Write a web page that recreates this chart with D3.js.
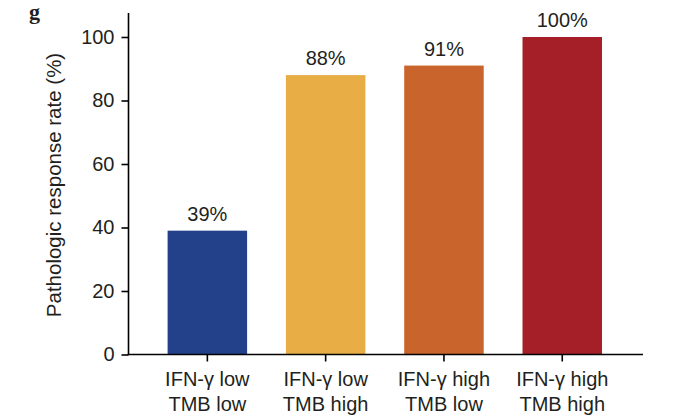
<!DOCTYPE html>
<html>
<head>
<meta charset="utf-8">
<script src="https://cdn.jsdelivr.net/npm/d3@7"></script>
<style>
  html, body { margin: 0; padding: 0; background: #fff; }
  svg { display: block; }
  text { font-family: "Liberation Sans", Arial, Helvetica, sans-serif; fill: #231f20; }
</style>
</head>
<body>
<svg id="chart" width="679" height="415"></svg>
<script>
// Groups, two-line labels, response rates and bar colours
const groups = ["g1", "g2", "g3", "g4"];
const labelLine1 = ["IFN-\u03b3 low", "IFN-\u03b3 low", "IFN-\u03b3 high", "IFN-\u03b3 high"];
const labelLine2 = ["TMB low", "TMB high", "TMB low", "TMB high"];
const rates = [39, 88, 91, 100];
const barColors = ["#22418a", "#e9ad45", "#c8642c", "#a51f29"];
const yTicks = [0, 20, 40, 60, 80, 100];

const svg = d3.select("#chart");

const y = d3.scaleLinear().domain([0, 100]).range([354.5, 37]);
const x = d3.scaleBand().domain(groups).range([148.2, 621.4])
  .paddingInner(0.328).paddingOuter(0.164);

const axisX0 = 128.5, axisX1 = 643;
const fontPx = "20px";

// Panel letter
svg.append("text")
  .attr("x", 29).attr("y", 19)
  .style("font-family", "'Liberation Serif', 'Times New Roman', serif")
  .style("font-weight", "bold")
  .style("font-size", "22px")
  .text("g");

// Bars
svg.selectAll("rect.bar").data(rates).enter().append("rect")
  .attr("class", "bar")
  .attr("x", (d, i) => x(groups[i]))
  .attr("width", x.bandwidth())
  .attr("y", d => y(d))
  .attr("height", d => y(0) - y(d))
  .attr("fill", (d, i) => barColors[i]);

// Value labels
svg.selectAll("text.val").data(rates).enter().append("text")
  .attr("class", "val")
  .attr("x", (d, i) => x(groups[i]) + x.bandwidth() / 2)
  .attr("y", d => y(d) - 10)
  .attr("text-anchor", "middle")
  .style("font-size", fontPx)
  .text(d => d + "%");

// Y axis
const yAxis = d3.axisLeft(y).tickValues(yTicks).tickSize(7).tickPadding(7).tickSizeOuter(0);
const gy = svg.append("g").attr("transform", `translate(${axisX0},0)`).call(yAxis);
gy.select(".domain").remove();
gy.append("line").attr("x1", 0).attr("x2", 0).attr("y1", 13).attr("y2", y(0) + 0.5)
  .attr("stroke", "#000").attr("stroke-width", 1.6);
gy.selectAll(".tick line").attr("stroke", "#000").attr("stroke-width", 1.6);
gy.selectAll(".tick text").style("font-size", fontPx)
  .style("font-family", "'Liberation Sans', Arial, sans-serif").attr("fill", "#231f20");

// X axis
const xAxis = d3.axisBottom(x).tickSize(7).tickFormat(() => "").tickSizeOuter(0);
const gx = svg.append("g").attr("transform", `translate(0,${y(0)})`).call(xAxis);
gx.select(".domain").remove();
gx.append("line").attr("x1", axisX0 - 0.8).attr("x2", axisX1).attr("y1", 0).attr("y2", 0)
  .attr("stroke", "#000").attr("stroke-width", 1.6);
gx.selectAll(".tick line").attr("stroke", "#000").attr("stroke-width", 1.6);

// Two-line category labels
const cat = svg.selectAll("text.cat").data(groups).enter().append("text")
  .attr("class", "cat")
  .attr("text-anchor", "middle")
  .style("font-size", fontPx);
cat.append("tspan")
  .attr("x", d => x(d) + x.bandwidth() / 2).attr("y", 386)
  .text((d, i) => labelLine1[i]);
cat.append("tspan")
  .attr("x", d => x(d) + x.bandwidth() / 2).attr("y", 411)
  .text((d, i) => labelLine2[i]);

// Y axis title
svg.append("text")
  .attr("transform", "translate(61,185) rotate(-90)")
  .attr("text-anchor", "middle")
  .style("font-size", "20.5px")
  .text("Pathologic response rate (%)");
</script>
</body>
</html>
